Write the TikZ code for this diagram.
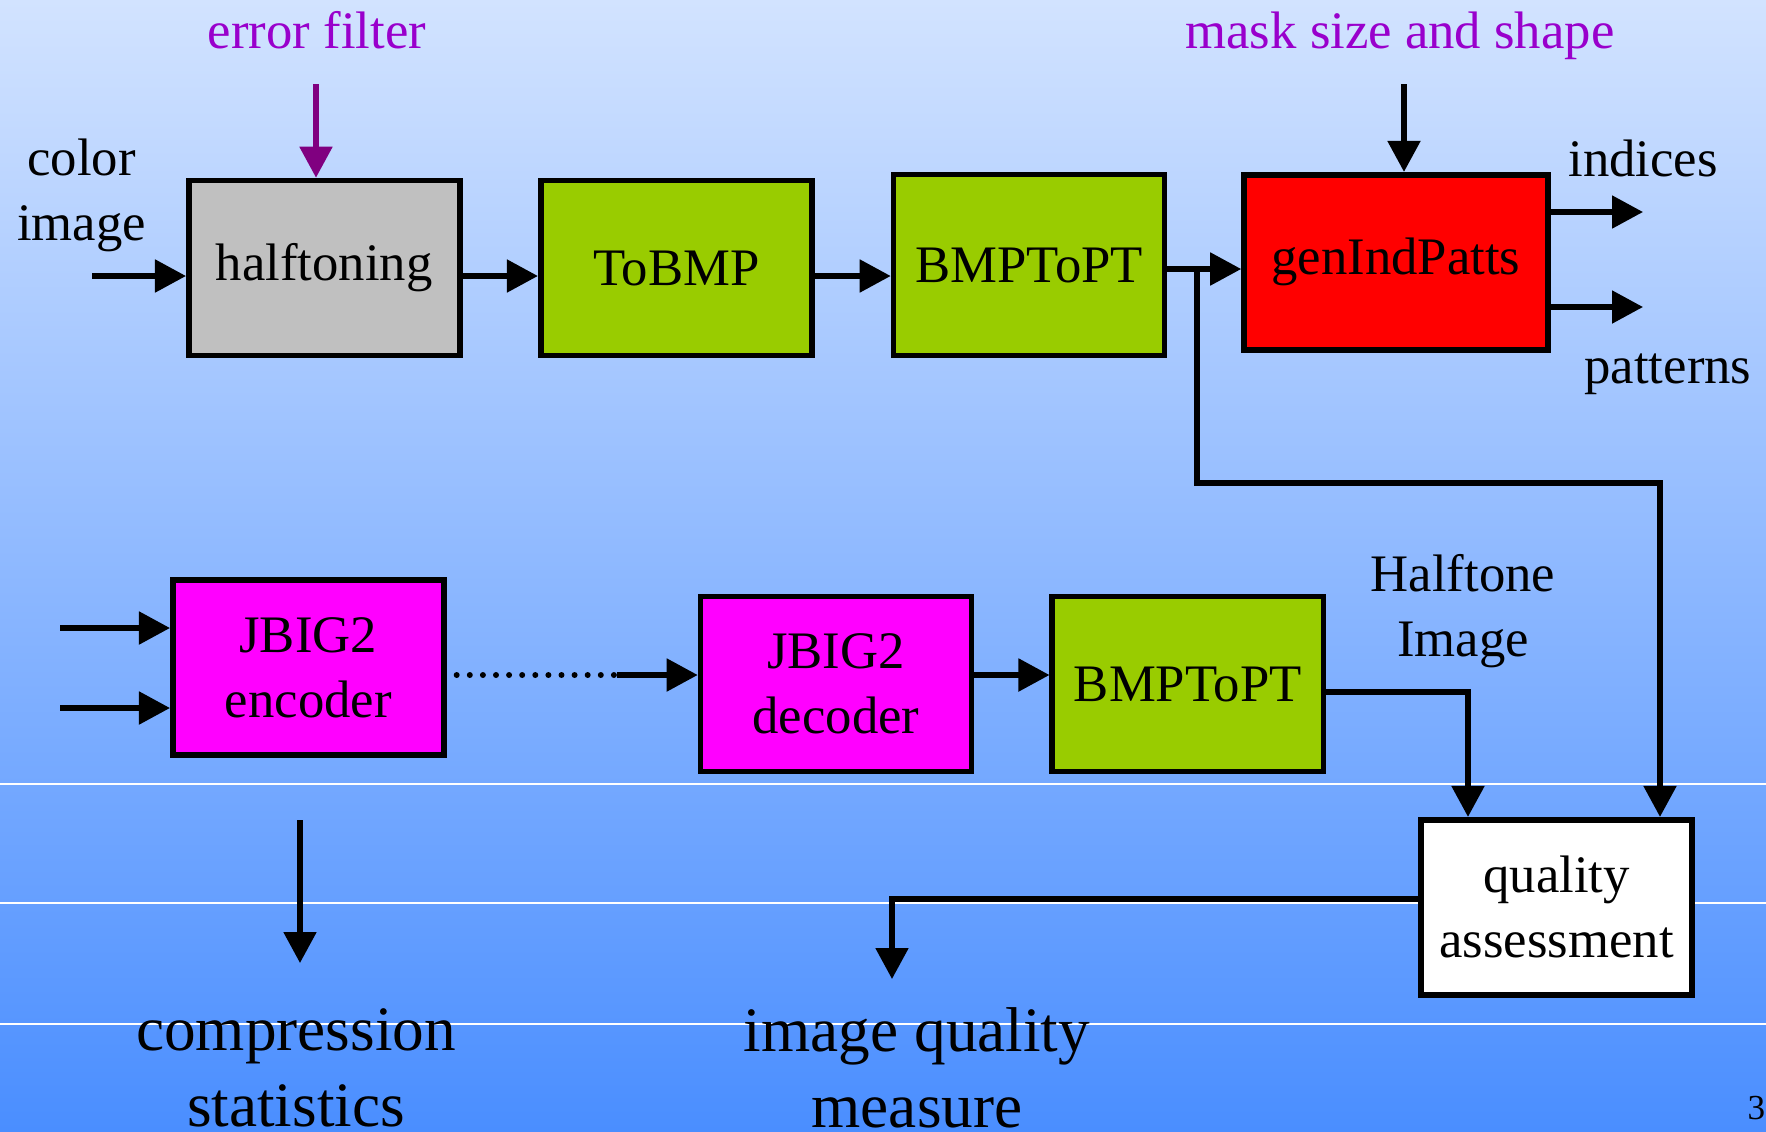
\documentclass[tikz,border=0pt]{standalone}
\usepackage{fontspec}
\setmainfont{Liberation Serif}
\usetikzlibrary{arrows.meta}
\definecolor{bgtop}{RGB}{210,227,255}
\definecolor{bgbot}{RGB}{74,142,255}
\definecolor{boxgreen}{RGB}{153,204,0}
\definecolor{boxgray}{RGB}{192,192,192}
\definecolor{boxmagenta}{RGB}{255,0,255}
\definecolor{boxred}{RGB}{255,0,0}
\definecolor{labelpurple}{RGB}{153,0,204}
\definecolor{arrowpurple}{RGB}{128,0,128}
\begin{document}
\begin{tikzpicture}[>={Triangle[length=3.1mm,width=3.2mm]},
    block/.style={shape=rectangle,draw=black,line width=1.6pt,minimum width=2.71cm,minimum height=1.75cm,inner sep=0pt,align=center,font=\fontsize{15}{18.5}\selectfont},
    lbl/.style={inner sep=0pt,align=center,font=\fontsize{15}{18.5}\selectfont},
    biglbl/.style={inner sep=0pt,align=center,font=\fontsize{18}{21.8}\selectfont},
    arr/.style={->,line width=1.5pt},
    dotline/.style={line width=1.7pt,line cap=round,dash pattern=on 0pt off 1.31mm}]

  \useasboundingbox (0,0) rectangle (17.66,-11.31);
  \clip (0,0) rectangle (17.66,-11.31);
  \shade[top color=bgtop,bottom color=bgbot] (0,0) rectangle (17.66,-11.31);
  \foreach \y in {7.84,9.03,10.24}
    \draw[white,line width=0.5pt] (0,-\y) -- (17.66,-\y);

  % blocks
  \node[block,fill=boxgray] (ht) at (3.243,-2.68) {halftoning};
  \node[block,fill=boxgreen] (tb) at (6.762,-2.68) {ToBMP};
  \node[block,fill=boxgreen,minimum height=1.81cm] (bp) at (10.29,-2.65) {BMPToPT};
  \node[block,fill=boxred,minimum width=3.04cm] (gi) at (13.96,-2.622) {genIndPatts};
  \node[block,fill=boxmagenta] (enc) at (3.083,-6.674) {JBIG2\\encoder};
  \node[block,fill=boxmagenta] (dec) at (8.36,-6.84) {JBIG2\\decoder};
  \node[block,fill=boxgreen] (bp2) at (11.878,-6.84) {BMPToPT};
  \node[block,fill=white] (qa) at (15.566,-9.072) {quality\\assessment};

  % labels
  \node[lbl,labelpurple,anchor=base] (ef) at (3.17,-0.48) {error filter};
  \node[lbl,labelpurple,anchor=base] (ms) at (14.00,-0.48) {mask size and shape};
  \node[lbl] (ci) at (0.815,-1.957) {color\\image};
  \node[lbl,anchor=base] (ind) at (16.43,-1.76) {indices};
  \node[lbl,anchor=base] (pat) at (16.68,-3.83) {patterns};
  \node[lbl] (hi) at (14.63,-6.115) {Halftone\\Image};
  \node[biglbl] (cs) at (2.96,-10.68) {compression\\statistics};
  \node[biglbl] (iq) at (9.17,-10.68) {image quality\\measure};
  \node[inner sep=0pt,anchor=base east,font=\fontsize{10}{12}\selectfont] (pg) at (17.66,-11.19) {3};

  \coordinate (ciin) at (0.92,-2.76);
  \coordinate (efin) at (3.16,-0.84);
  \coordinate (msin) at (14.04,-0.84);
  \coordinate (indout) at (16.43,-2.12);
  \coordinate (patout) at (16.43,-3.07);
  \coordinate (split) at (11.97,-2.69);
  \coordinate (bend) at (16.60,-4.83);
  \coordinate (encin1) at (0.60,-6.28);
  \coordinate (encin2) at (0.60,-7.08);
  \coordinate (dotstart) at (4.567,-6.75);
  \coordinate (dotend) at (6.17,-6.75);
  \coordinate (hiturn) at (14.68,-6.92);
  \coordinate (qaturn) at (8.92,-8.99);
  \coordinate (iqin) at (8.92,-9.79);
  \coordinate (csout) at (3.00,-8.20);
  \coordinate (csin) at (3.00,-9.63);

  \path[arr] (ciin) edge (ciin -| ht.west)
    (ht.east |- ciin) edge (tb.west |- ciin)
    (tb.east |- ciin) edge (bp.west |- ciin)
    (bp.east |- split) edge (gi.west |- split)
    (gi.east |- indout) edge (indout)
    (gi.east |- patout) edge (patout)
    (msin) edge (msin |- gi.north)
    (encin1) edge (encin1 -| enc.west)
    (encin2) edge (encin2 -| enc.west)
    (dotend) edge (dotend -| dec.west)
    (dec.east |- dotend) edge (bp2.west |- dotend)
    (csout) edge (csin);
  \path[arr,arrowpurple] (efin) edge (efin |- ht.north);
  \draw[dotline] (dotstart) -- (dotend);
  \draw[arr] (split) |- (bend) -- (bend |- qa.north);
  \draw[arr] (bp2.east |- hiturn) -- (hiturn) -- (hiturn |- qa.north);
  \draw[arr] (qa.west |- qaturn) -- (qaturn) -- (iqin);
\end{tikzpicture}
\end{document}
